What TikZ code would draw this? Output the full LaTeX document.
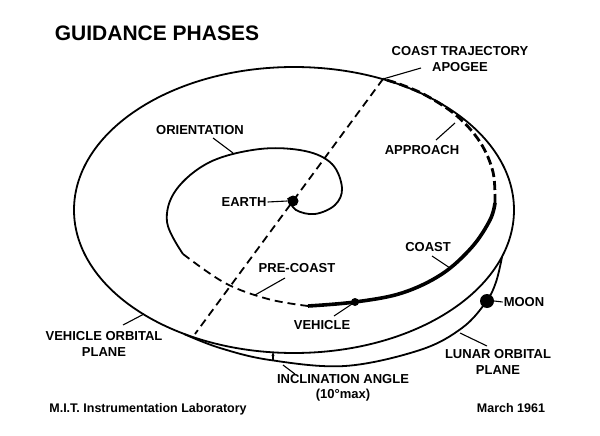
\documentclass[tikz,border=0pt]{standalone}
\usepackage{fontspec}
\setmainfont{Liberation Sans}
\usetikzlibrary{arrows.meta}
\begin{document}
\begin{tikzpicture}[x=1pt,y=-1pt,
  lab/.style={font=\bfseries\fontsize{13}{15.5}\selectfont,inner sep=1pt,align=center},
  ln/.style={line width=1.8pt},
  thick2/.style={line width=3.6pt},
  dsh/.style={line width=1.8pt,dash pattern=on 8pt off 5pt},
  lead/.style={line width=1.1pt}]
\useasboundingbox (0,0) rectangle (600,436);
\node[font=\bfseries\fontsize{21}{24}\selectfont] (title) at (157,33) {GUIDANCE PHASES};
% planes
\draw[ln] (294,210) ellipse [x radius=220, y radius=143];
\coordinate (lr) at (502,257);
\coordinate (ll) at (184,334);
\draw[ln] plot[smooth,tension=0.6] coordinates {(lr) (496,282) (486,302) (462,328) (420,350) (345,366) (270,360) (220,348) (ll)};
% earth, moon
\node[circle,fill,inner sep=0pt,minimum size=11pt] (earth) at (293,201) {};
\node[circle,fill,inner sep=0pt,minimum size=14pt] (moon) at (487,301) {};
\coordinate (apo) at (383,79);
\coordinate (veh) at (355,302);
\fill (veh) circle (4pt);
% dashed line of apsides
\draw[dsh] (apo) -- (earth.center) -- (195,334);
% spiral
\draw[ln] plot[smooth,tension=0.6] coordinates {(288,198) (296,210) (315,214) (335,205) (342,188) (332,164) (305,151) (260,149) (210,162) (176,190) (167,222) (183,254)};
\draw[dsh] plot[smooth,tension=0.6] coordinates {(183,254) (225,283) (268,299) (308,306)};
\draw[thick2] plot[smooth,tension=0.6] coordinates {(308,306) (355,302) (402,293) (442,274) (472,247) (490,220) (495,203)};
\draw[line width=2.8pt,dash pattern=on 9pt off 4pt] plot[smooth,tension=0.6] coordinates {(495,203) (493,172) (480,142) (457,116) (427,96) (402,85) (383,79)};
% labels
\node[lab] (orient) at (200,130) {ORIENTATION};
\draw[lead] (213,138) -- (233,153);
\node[lab] (earthl) at (244,202) {EARTH};
\draw[lead] (earthl.east) -- (earth.west);
\node[lab] (apol) at (460,59) {COAST TRAJECTORY\\APOGEE};
\draw[lead] (apo) -- (421,68);
\node[lab] (appr) at (422,150) {APPROACH};
\draw[lead] (436,140) -- (455,123);
\node[lab] (coast) at (428,247) {COAST};
\draw[lead] (432,256) -- (450,268);
\node[lab] (pre) at (297,268) {PRE-COAST};
\draw[lead] (285,278) -- (255,295);
\node[lab] (vehl) at (322,325) {VEHICLE};
\draw[lead] (334,316) -- (veh);
\node[lab] (moonl) at (524,302) {MOON};
\draw[lead] (moon.east) -- (moonl.west);
\node[lab] (lop) at (498,362) {LUNAR ORBITAL\\PLANE};
\draw[lead] (460,333) -- (487,346);
\node[lab] (vop) at (104,344) {VEHICLE ORBITAL\\PLANE};
\draw[lead] (123,325) -- (144,314);
\node[lab] (incl) at (343,388) {INCLINATION ANGLE\\(10°max)};
\draw[lead] (295,374) -- (283,365);
\draw[lead,-{Stealth[length=4pt]}] (273,361) -- (273,352);
\node[lab,font=\bfseries\fontsize{12.5}{14}\selectfont] (mit) at (148,409) {M.I.T. Instrumentation Laboratory};
\node[lab,font=\bfseries\fontsize{12.5}{14}\selectfont] (date) at (511,408) {March 1961};
\end{tikzpicture}
\end{document}
